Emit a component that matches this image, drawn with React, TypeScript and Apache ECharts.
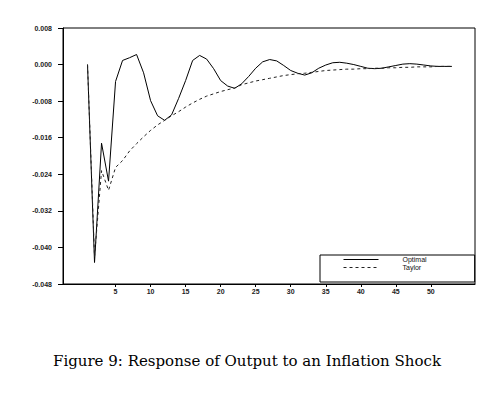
import React, { useEffect, useRef } from "react";
import * as echarts from "echarts";

const periods: number[] = Array.from({ length: 53 }, (_, i) => i + 1);

const optimal: number[] = [
  0.0, -0.0433, -0.0172, -0.0255, -0.0037, 0.0009, 0.0015, 0.0022, -0.0018, -0.0079,
  -0.0112, -0.0122, -0.011, -0.0074, -0.0035, 0.0009, 0.002, 0.0012, -0.0009, -0.0035,
  -0.0047, -0.0052, -0.0042, -0.0026, -0.0008, 0.0006, 0.0011, 0.0008, -0.0002, -0.0013,
  -0.0019, -0.0023, -0.0018, -0.0008, -0.0001, 0.0004, 0.0005, 0.0003, 0.0, -0.0004,
  -0.0008, -0.0009, -0.0008, -0.0005, -0.0002, 0.0001, 0.0002, 0.0001, -0.0001, -0.0003,
  -0.0004, -0.0004, -0.0004,
];

const taylor: number[] = [
  0.0, -0.042, -0.0232, -0.0275, -0.0225, -0.021, -0.0189, -0.0173, -0.0158, -0.0144,
  -0.0132, -0.0122, -0.0112, -0.0103, -0.0093, -0.0084, -0.0076, -0.0069, -0.0064, -0.0059,
  -0.0055, -0.0051, -0.0044, -0.004, -0.0036, -0.0033, -0.003, -0.0027, -0.0024, -0.0022,
  -0.002, -0.0019, -0.0017, -0.0015, -0.0013, -0.0012, -0.0011, -0.0010, -0.0010, -0.0009,
  -0.0009, -0.0008, -0.0008, -0.0007, -0.0007, -0.0006, -0.0006, -0.0005, -0.0005, -0.0005,
  -0.0004, -0.0004, -0.0004,
];

const xTickLabels: number[] = [5, 10, 15, 20, 25, 30, 35, 40, 45, 50];
const seriesNames: string[] = ["Optimal", "Taylor"];
const caption = "Figure 9: Response of Output to an Inflation Shock";

export default function App() {
  const ref = useRef<HTMLDivElement>(null);
  useEffect(() => {
    if (!ref.current) return;
    const chart = echarts.init(ref.current, undefined, { renderer: "svg" });
    const axisFont = { fontFamily: "Liberation Sans", fontSize: 7, color: "#222", fontWeight: "bold" as const };
    chart.setOption({
      animation: false,
      backgroundColor: "#ffffff",
      grid: {
        left: 63,
        top: 28,
        right: 18,
        bottom: 113,
        show: true,
        borderColor: "#000",
        borderWidth: 1,
        backgroundColor: "transparent",
      },
      xAxis: {
        type: "value",
        min: -2.5,
        max: 56.3,
        splitLine: { show: false },
        axisLine: { show: true, onZero: false, lineStyle: { color: "#000", width: 1 } },
        axisTick: { show: true, length: 3, customValues: xTickLabels, lineStyle: { color: "#000" } },
        axisLabel: { ...axisFont, margin: 4, customValues: xTickLabels },
      },
      yAxis: {
        type: "value",
        min: -0.048,
        max: 0.008,
        interval: 0.008,
        splitLine: { show: false },
        axisLine: { show: true, onZero: false, lineStyle: { color: "#000", width: 1 } },
        axisTick: { show: true, length: 5, lineStyle: { color: "#000" } },
        axisLabel: {
          ...axisFont,
          margin: 11,
          formatter: (v: number) => (Math.abs(v) < 1e-9 ? "0.000" : v.toFixed(3)),
        },
      },
      legend: {
        show: true,
        orient: "vertical",
        left: 320,
        top: 255,
        data: seriesNames,
        itemWidth: 35,
        itemHeight: 8,
        itemGap: 1,
        padding: [1, 48, 11, 23],
        borderColor: "#000",
        borderWidth: 1,
        backgroundColor: "#fff",
        borderRadius: 0,
        itemStyle: { opacity: 0 },
        lineStyle: { width: 1 },
        textStyle: { fontFamily: "Liberation Sans", fontSize: 7, color: "#111", padding: [0, 0, 0, 19] },
      },
      series: [
        {
          name: seriesNames[0],
          type: "line",
          data: periods.map((t, i) => [t, optimal[i]]),
          symbol: "none",
          lineStyle: { color: "#000", width: 1, type: "solid" },
          itemStyle: { color: "#000" },
        },
        {
          name: seriesNames[1],
          type: "line",
          data: periods.map((t, i) => [t, taylor[i]]),
          symbol: "none",
          lineStyle: { color: "#222", width: 1, type: [3, 3] },
          itemStyle: { color: "#222" },
        },
      ],
      graphic: [
        {
          type: "text",
          x: 247,
          y: 361,
          style: {
            text: caption,
            fontFamily: "DejaVu Serif",
            fontSize: 15,
            fill: "#000",
            align: "center",
            verticalAlign: "middle",
          },
        },
      ],
    });
    return () => chart.dispose();
  }, []);
  return (
    <div
      ref={ref}
      style={{ position: "fixed", left: 0, top: 0, width: 493, height: 397, background: "#fff" }}
    />
  );
}
